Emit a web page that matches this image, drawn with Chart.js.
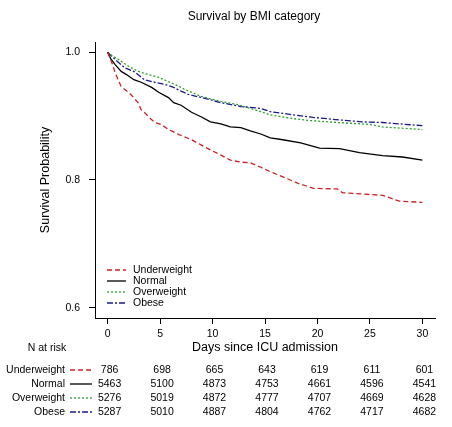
<!DOCTYPE html>
<html>
<head>
<meta charset="utf-8">
<script src="https://cdn.jsdelivr.net/npm/chart.js@4"></script>
<style>
  html, body { margin: 0; padding: 0; background: #fff; }
  #wrap { width: 452px; height: 427px; position: relative; }
</style>
</head>
<body>
<div id="wrap"><canvas id="km"></canvas></div>
<script>
// ── Data ────────────────────────────────────────────────────

const groups = ['Underweight', 'Normal', 'Overweight', 'Obese'];
const dayTicks = [0, 5, 10, 15, 20, 25, 30];
const survTicks = [0.6, 0.8, 1.0];

const underweightDays = [0, 0.4, 0.7, 1.0, 1.3, 2.0, 2.5, 2.9, 3.2, 3.5, 3.9, 4.5, 5.1, 5.8, 6.2, 6.8, 8.0, 8.9, 9.8, 10.8, 11.7, 12.7, 13.6, 14.6, 15.5, 16.7, 18.1, 19.6, 21.9, 22.4, 26.2, 27.8, 30];
const underweightSurv = [1.0, 0.984, 0.969, 0.957, 0.946, 0.937, 0.929, 0.921, 0.910, 0.906, 0.899, 0.890, 0.887, 0.879, 0.876, 0.871, 0.863, 0.855, 0.847, 0.839, 0.831, 0.828, 0.827, 0.820, 0.813, 0.805, 0.795, 0.787, 0.786, 0.780, 0.776, 0.767, 0.765];

const normalDays = [0, 0.3, 0.7, 1.3, 1.8, 2.5, 3.2, 4.2, 4.9, 5.8, 6.3, 7.0, 8.0, 8.9, 9.8, 10.8, 11.7, 12.7, 13.6, 14.6, 15.5, 16.7, 18.4, 20.2, 22.1, 24.0, 26.2, 28.1, 30];
const normalSurv = [1.0, 0.990, 0.981, 0.970, 0.965, 0.957, 0.953, 0.945, 0.937, 0.929, 0.921, 0.917, 0.906, 0.899, 0.891, 0.888, 0.883, 0.882, 0.877, 0.872, 0.866, 0.863, 0.858, 0.850, 0.849, 0.843, 0.838, 0.836, 0.831];

const overweightDays = [0, 0.2, 1.0, 2.0, 2.9, 3.9, 4.8, 5.8, 7.0, 7.3, 8.9, 10.8, 12.4, 14.6, 15.5, 17.7, 19.3, 21.9, 25.0, 26.2, 30];
const overweightSurv = [1.0, 0.997, 0.989, 0.978, 0.970, 0.965, 0.961, 0.954, 0.945, 0.942, 0.931, 0.923, 0.918, 0.907, 0.902, 0.896, 0.893, 0.890, 0.887, 0.883, 0.879];

const obeseDays = [0, 0.7, 1.6, 2.6, 3.5, 4.5, 5.4, 6.3, 7.0, 7.7, 9.2, 10.8, 12.7, 14.6, 15.5, 17.7, 19.6, 22.1, 24.3, 26.2, 30];
const obeseSurv = [1.0, 0.989, 0.976, 0.969, 0.957, 0.953, 0.950, 0.945, 0.939, 0.934, 0.928, 0.921, 0.915, 0.912, 0.907, 0.902, 0.898, 0.894, 0.891, 0.890, 0.885];

// numbers at risk, one value per day tick
const riskUnderweight = [786, 698, 665, 643, 619, 611, 601];
const riskNormal = [5463, 5100, 4873, 4753, 4661, 4596, 4541];
const riskOverweight = [5276, 5019, 4872, 4777, 4707, 4669, 4628];
const riskObese = [5287, 5010, 4887, 4804, 4762, 4717, 4682];

// ── Styling ─────────────────────────────────────────────────

const FONT = '"Liberation Sans", Arial, sans-serif';
const colors = ['#cc2222', '#000000', '#2ca02c', '#1a1a8c'];
const dashes = [[5, 3], [], [2, 2], [6, 2, 2, 2]];

function toPoints(days, surv) {
    return days.map((d, i) => ({ x: d, y: surv[i] }));
}

const seriesDays = [underweightDays, normalDays, overweightDays, obeseDays];
const seriesSurv = [underweightSurv, normalSurv, overweightSurv, obeseSurv];
const riskRows = [riskUnderweight, riskNormal, riskOverweight, riskObese];

const datasets = groups.map((g, i) => ({
    label: g,
    data: toPoints(seriesDays[i], seriesSurv[i]),
    borderColor: colors[i],
    borderDash: dashes[i],
    borderWidth: 1.3,
    pointRadius: 0,
    tension: 0,
    fill: false,
}));

// ── Extra text: title, axis titles, legend, risk table ─────

const annotate = {
    id: 'annotate',
    afterDraw(chart) {
        const ctx = chart.ctx;
        const xs = chart.scales.x;
        ctx.save();
        ctx.fillStyle = '#000';

        ctx.font = '12px ' + FONT;
        ctx.textAlign = 'center';
        ctx.textBaseline = 'middle';
        ctx.fillText('Survival by BMI category', 254, 17);

        ctx.font = '12.5px ' + FONT;
        ctx.fillText('Days since ICU admission', 265, 348);

        ctx.save();
        ctx.translate(46, 180);
        ctx.rotate(-Math.PI / 2);
        ctx.fillText('Survival Probability', 0, 0);
        ctx.restore();

        // legend inside the plot
        ctx.font = '10.5px ' + FONT;
        ctx.textAlign = 'left';
        chart.data.datasets.forEach((ds, i) => {
            const y = 270 + i * 11;
            ctx.save();
            ctx.strokeStyle = ds.borderColor;
            ctx.lineWidth = ds.borderWidth;
            ctx.setLineDash(ds.borderDash);
            ctx.beginPath();
            ctx.moveTo(107, y);
            ctx.lineTo(126, y);
            ctx.stroke();
            ctx.restore();
            ctx.fillText(ds.label, 133, y);
        });

        // numbers at risk
        ctx.font = '10.5px ' + FONT;
        ctx.textAlign = 'center';
        ctx.fillText('N at risk', 47, 348);
        const rowY = [370, 384, 398, 412];
        groups.forEach((g, i) => {
            const y = rowY[i];
            ctx.textAlign = 'right';
            ctx.fillText(g, 65, y);
            ctx.save();
            ctx.strokeStyle = colors[i];
            ctx.lineWidth = 1.3;
            ctx.setLineDash(dashes[i]);
            ctx.beginPath();
            ctx.moveTo(70, y);
            ctx.lineTo(92, y);
            ctx.stroke();
            ctx.restore();
            ctx.textAlign = 'center';
            riskRows[i].forEach((n, j) => {
                ctx.fillText(String(n), xs.getPixelForValue(dayTicks[j]) + 2, y);
            });
        });
        ctx.restore();
    }
};

// ── Chart ───────────────────────────────────────────────────

new Chart(document.getElementById('km'), {
    type: 'line',
    data: { datasets },
    options: {
        responsive: true,
        maintainAspectRatio: false,
        animation: false,
        layout: { padding: { top: 42, right: 17, left: 0, bottom: 0 } },
        plugins: {
            legend: { display: false },
            title: { display: false },
            tooltip: { enabled: false },
        },
        scales: {
            x: {
                type: 'linear',
                min: -1.2,
                max: 31.2,
                afterFit: (s) => { s.height = 109; },
                afterBuildTicks: (s) => { s.ticks = dayTicks.map(v => ({ value: v })); },
                grid: { drawOnChartArea: false, drawTicks: true, tickLength: 6, color: '#000' },
                border: { display: true, color: '#000', width: 1 },
                ticks: { color: '#000', padding: 4, maxRotation: 0, font: { family: FONT, size: 10.5 } },
            },
            y: {
                type: 'linear',
                min: 0.584,
                max: 1.016,
                afterFit: (s) => { s.width = 95; },
                afterBuildTicks: (s) => { s.ticks = survTicks.map(v => ({ value: v })); },
                grid: { drawOnChartArea: false, drawTicks: true, tickLength: 6, color: '#000' },
                border: { display: true, color: '#000', width: 1 },
                ticks: {
                    color: '#000',
                    padding: 9,
                    font: { family: FONT, size: 10.5 },
                    callback: (v) => Number(v).toFixed(1),
                },
            },
        },
    },
    plugins: [annotate],
});
</script>
</body>
</html>
